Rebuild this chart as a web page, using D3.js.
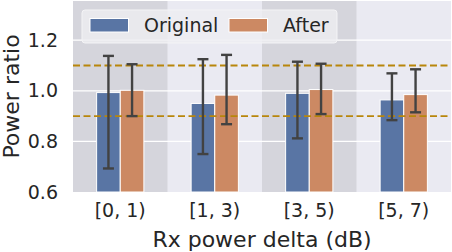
<!DOCTYPE html>
<html>
<head>
<meta charset="utf-8">
<script src="https://cdn.jsdelivr.net/npm/d3@7"></script>
<style>
  body { margin: 0; background: #fff; }
  text { font-family: "DejaVu Sans", sans-serif; fill: #262626; }
</style>
</head>
<body>
<script>
// data
const categories = ["[0, 1)", "[1, 3)", "[3, 5)", "[5, 7)"];
const seriesNames = ["Original", "After"];
const original = [0.993, 0.950, 0.990, 0.964];
const originalLo = [0.693, 0.750, 0.812, 0.884];
const originalHi = [1.138, 1.125, 1.115, 1.069];
const after = [1.002, 0.983, 1.005, 0.985];
const afterLo = [0.900, 0.868, 0.908, 0.915];
const afterHi = [1.105, 1.142, 1.107, 1.085];
const refLines = [0.9, 1.1];
const yTicks = [0.6, 0.8, 1.0, 1.2];
const shaded = [0, 2]; // categories with grey band

const w = 452, h = 252;
const padL = 73, padR = 451, padT = 1, padB = 192;
const colors = ["#5975A4", "#CC8963"];

const svg = d3.select("body").append("svg")
    .attr("width", w)
    .attr("height", h);

const xScale = d3.scaleBand()
    .domain(categories)
    .range([padL, padR])
    .padding(0);

const yScale = d3.scaleLinear()
    .domain([0.6, 1.355])
    .range([padB, padT]);

// background
svg.append("rect")
    .attr("x", padL).attr("y", padT)
    .attr("width", padR - padL).attr("height", padB - padT)
    .attr("fill", "#EAEAF2");

svg.selectAll("rect.band")
    .data(shaded)
    .enter()
    .append("rect")
    .attr("class", "band")
    .attr("x", d => xScale(categories[d]))
    .attr("y", padT)
    .attr("width", xScale.bandwidth())
    .attr("height", padB - padT)
    .attr("fill", "#D5D5DC");

// grid
svg.selectAll("line.grid")
    .data(yTicks.slice(1))
    .enter()
    .append("line")
    .attr("class", "grid")
    .attr("x1", padL).attr("x2", padR)
    .attr("y1", d => yScale(d)).attr("y2", d => yScale(d))
    .attr("stroke", "#fff")
    .attr("stroke-width", 1.3);

// bars
const series = [
    { vals: original, lo: originalLo, hi: originalHi },
    { vals: after, lo: afterLo, hi: afterHi }
];
const sub = d3.scaleBand()
    .domain([0, 1])
    .range([xScale.bandwidth() * 0.25, xScale.bandwidth() * 0.75]);

series.forEach(function (s, si) {
    svg.selectAll("rect.bar" + si)
        .data(s.vals)
        .enter()
        .append("rect")
        .attr("class", "bar" + si)
        .attr("x", (d, i) => xScale(categories[i]) + sub(si))
        .attr("y", d => yScale(d))
        .attr("width", sub.bandwidth())
        .attr("height", d => padB - yScale(d))
        .attr("fill", colors[si])
        .attr("stroke", "#fff")
        .attr("stroke-width", 1);
});

// reference lines
svg.selectAll("line.ref")
    .data(refLines)
    .enter()
    .append("line")
    .attr("class", "ref")
    .attr("x1", padL).attr("x2", padR)
    .attr("y1", d => yScale(d)).attr("y2", d => yScale(d))
    .attr("stroke", "#B8860B")
    .attr("stroke-width", 1.8)
    .attr("stroke-dasharray", "7,3.5");

// error bars
series.forEach(function (s, si) {
    const g = svg.append("g")
        .attr("stroke", "#424242")
        .attr("stroke-width", 2.4);
    s.vals.forEach(function (v, i) {
        const cx = xScale(categories[i]) + sub(si) + sub.bandwidth() / 2;
        g.append("line")
            .attr("x1", cx).attr("x2", cx)
            .attr("y1", yScale(s.lo[i])).attr("y2", yScale(s.hi[i]));
        [s.lo[i], s.hi[i]].forEach(function (e) {
            g.append("line")
                .attr("x1", cx - 5.5).attr("x2", cx + 5.5)
                .attr("y1", yScale(e)).attr("y2", yScale(e));
        });
    });
});

// axes
const yAxis = svg.append("g")
    .attr("transform", "translate(" + padL + ",0)")
    .call(d3.axisLeft(yScale).tickValues(yTicks).tickFormat(d3.format(".1f")).tickSize(0).tickPadding(15));
yAxis.select(".domain").remove();
yAxis.selectAll("text").attr("font-size", 19).attr("fill", "#262626");

const xAxis = svg.append("g")
    .attr("transform", "translate(0," + padB + ")")
    .call(d3.axisBottom(xScale).tickSize(0).tickPadding(12));
xAxis.select(".domain").remove();
xAxis.selectAll("text").attr("font-size", 19).attr("fill", "#262626");

svg.append("text")
    .attr("text-anchor", "middle")
    .attr("font-size", 22)
    .attr("x", (padL + padR) / 2)
    .attr("y", 247)
    .text("Rx power delta (dB)");

svg.append("text")
    .attr("text-anchor", "middle")
    .attr("font-size", 22)
    .attr("transform", "translate(19," + ((padT + padB) / 2) + ")rotate(-90)")
    .text("Power ratio");

// legend
const legend = svg.append("g");
legend.append("rect")
    .attr("x", 82).attr("y", 10)
    .attr("width", 255).attr("height", 33)
    .attr("rx", 3)
    .attr("fill", "#EDEDF1")
    .attr("fill-opacity", 0.8)
    .attr("stroke", "#F4F4F6")
    .attr("stroke-width", 1);

const legX = [90, 229];
seriesNames.forEach(function (name, i) {
    legend.append("rect")
        .attr("x", legX[i]).attr("y", 18.5)
        .attr("width", 38.5).attr("height", 13.5)
        .attr("fill", colors[i])
        .attr("stroke", "#fff")
        .attr("stroke-width", 1);
    legend.append("text")
        .attr("x", legX[i] + 54)
        .attr("y", 32)
        .attr("font-size", 19)
        .text(name);
});
</script>
</body>
</html>
